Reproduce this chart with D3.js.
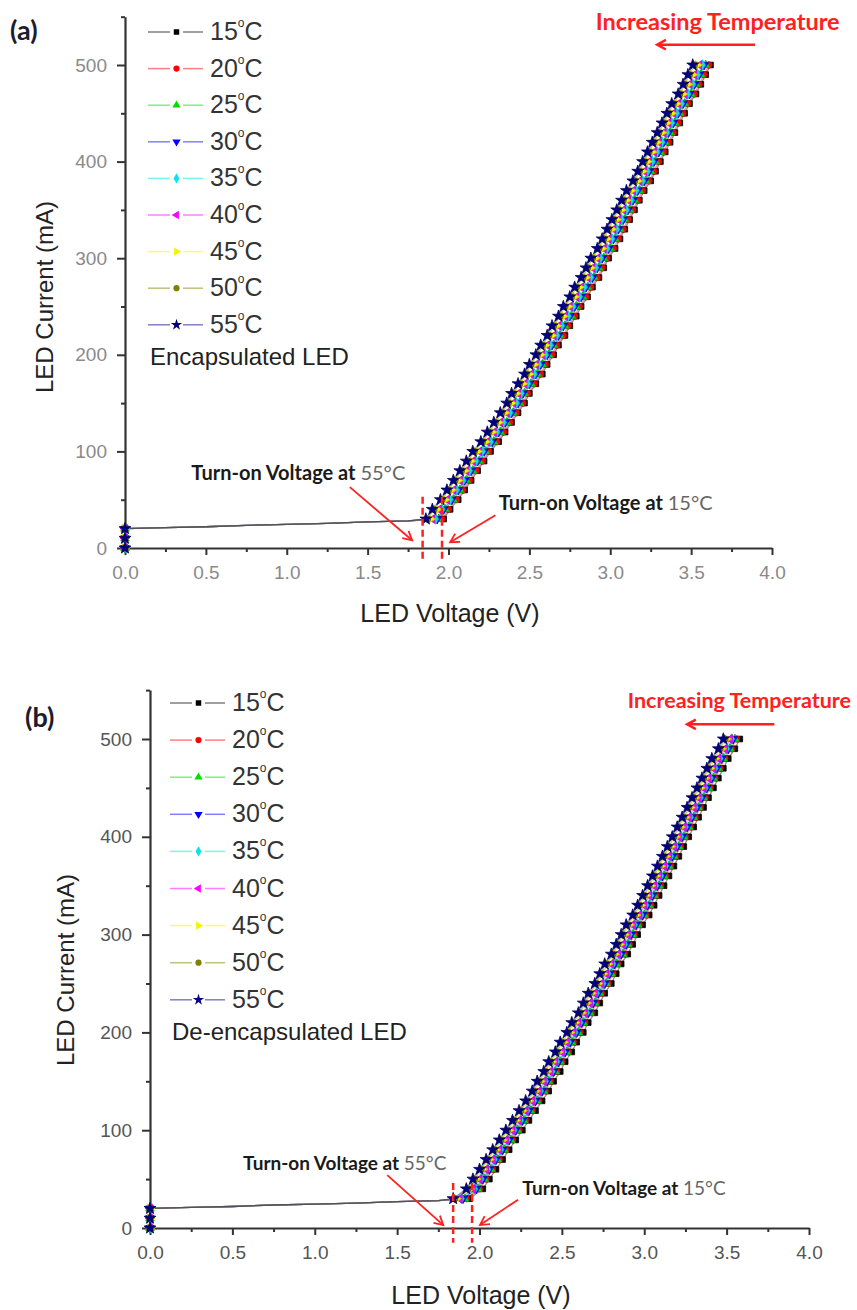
<!DOCTYPE html>
<html>
<head>
<meta charset="utf-8">
<script src="https://cdn.jsdelivr.net/npm/d3@7"></script>
<style>
  body { margin: 0; background: #fff; }
  svg { display: block; }
</style>
</head>
<body>
<script>
// DATA
const temps = ["15", "20", "25", "30", "35", "40", "45", "50", "55"];
const current = [30,40,50,60,70,80,90,100,110,120,130,140,150,160,170,180,190,200,210,220,230,240,250,260,270,280,290,300,310,320,330,340,350,360,370,380,390,400,410,420,430,440,450,460,470,480,490,500];
const zeroI = [0, 10, 20];
const lowV = [0.25, 0.5, 0.75, 1.0, 1.25, 1.5, 1.75];
const lowI = [21, 22, 23.5, 24.5, 25.5, 27, 28];

// (a) encapsulated LED, voltage (V) at each current step
const enc15 = [1.97,2.01,2.06,2.10,2.14,2.18,2.22,2.26,2.31,2.35,2.39,2.43,2.47,2.50,2.54,2.58,2.61,2.65,2.68,2.72,2.75,2.79,2.82,2.86,2.89,2.93,2.96,2.99,3.03,3.06,3.09,3.12,3.15,3.18,3.21,3.25,3.28,3.31,3.34,3.37,3.40,3.43,3.46,3.49,3.53,3.56,3.59,3.62];
const enc20 = [1.96,2.00,2.05,2.09,2.13,2.17,2.21,2.25,2.30,2.34,2.38,2.42,2.46,2.49,2.53,2.57,2.60,2.64,2.67,2.71,2.74,2.78,2.81,2.85,2.88,2.92,2.95,2.98,3.02,3.05,3.08,3.11,3.14,3.17,3.20,3.24,3.27,3.30,3.33,3.36,3.39,3.42,3.45,3.48,3.52,3.55,3.58,3.61];
const enc25 = [1.94,1.98,2.03,2.07,2.11,2.15,2.19,2.23,2.28,2.32,2.36,2.40,2.44,2.47,2.51,2.55,2.58,2.62,2.65,2.69,2.72,2.76,2.79,2.83,2.86,2.90,2.93,2.96,3.00,3.03,3.06,3.09,3.12,3.15,3.18,3.22,3.25,3.28,3.31,3.34,3.37,3.40,3.43,3.46,3.50,3.53,3.56,3.59];
const enc30 = [1.93,1.97,2.02,2.06,2.10,2.14,2.18,2.22,2.27,2.31,2.35,2.39,2.43,2.46,2.50,2.54,2.57,2.61,2.64,2.68,2.71,2.75,2.78,2.82,2.85,2.89,2.92,2.95,2.99,3.02,3.05,3.08,3.11,3.14,3.17,3.21,3.24,3.27,3.30,3.33,3.36,3.39,3.42,3.45,3.49,3.52,3.55,3.58];
const enc35 = [1.92,1.96,2.01,2.05,2.09,2.13,2.17,2.21,2.26,2.30,2.34,2.38,2.42,2.45,2.49,2.53,2.56,2.60,2.63,2.67,2.70,2.74,2.77,2.81,2.84,2.88,2.91,2.94,2.98,3.01,3.04,3.07,3.10,3.13,3.16,3.20,3.23,3.26,3.29,3.32,3.35,3.38,3.41,3.44,3.48,3.51,3.54,3.57];
const enc40 = [1.90,1.94,1.99,2.03,2.07,2.11,2.15,2.19,2.24,2.28,2.32,2.36,2.40,2.43,2.47,2.51,2.54,2.58,2.61,2.65,2.68,2.72,2.75,2.79,2.82,2.86,2.89,2.92,2.96,2.99,3.02,3.05,3.08,3.11,3.14,3.18,3.21,3.24,3.27,3.30,3.33,3.36,3.39,3.42,3.46,3.49,3.52,3.55];
const enc45 = [1.89,1.93,1.98,2.02,2.06,2.10,2.14,2.18,2.23,2.27,2.31,2.35,2.39,2.42,2.46,2.50,2.53,2.57,2.60,2.64,2.67,2.71,2.74,2.78,2.81,2.85,2.88,2.91,2.95,2.98,3.01,3.04,3.07,3.10,3.13,3.17,3.20,3.23,3.26,3.29,3.32,3.35,3.38,3.41,3.45,3.48,3.51,3.54];
const enc50 = [1.87,1.91,1.96,2.00,2.04,2.08,2.12,2.16,2.21,2.25,2.29,2.33,2.37,2.40,2.44,2.48,2.51,2.55,2.58,2.62,2.65,2.69,2.72,2.76,2.79,2.83,2.86,2.89,2.93,2.96,2.99,3.02,3.05,3.08,3.11,3.15,3.18,3.21,3.24,3.27,3.30,3.33,3.36,3.39,3.43,3.46,3.49,3.52];
const enc55 = [1.86,1.90,1.95,1.99,2.03,2.07,2.11,2.15,2.20,2.24,2.28,2.32,2.36,2.39,2.43,2.47,2.50,2.54,2.57,2.61,2.64,2.68,2.71,2.75,2.78,2.82,2.85,2.88,2.92,2.95,2.98,3.01,3.04,3.07,3.10,3.14,3.17,3.20,3.23,3.26,3.29,3.32,3.35,3.38,3.42,3.45,3.48,3.51];

// (b) de-encapsulated LED
const dec15 = [1.94,2.02,2.06,2.10,2.14,2.18,2.22,2.26,2.30,2.34,2.38,2.42,2.45,2.49,2.52,2.56,2.59,2.63,2.66,2.70,2.73,2.76,2.80,2.83,2.86,2.90,2.93,2.96,2.99,3.03,3.06,3.09,3.12,3.15,3.18,3.21,3.24,3.27,3.30,3.33,3.36,3.39,3.42,3.45,3.48,3.51,3.55,3.58];
const dec20 = [1.92,2.00,2.04,2.08,2.12,2.16,2.20,2.24,2.28,2.32,2.36,2.40,2.43,2.47,2.50,2.54,2.57,2.61,2.64,2.68,2.71,2.74,2.78,2.81,2.84,2.88,2.91,2.94,2.97,3.01,3.04,3.07,3.10,3.13,3.16,3.19,3.22,3.25,3.28,3.31,3.34,3.37,3.40,3.43,3.46,3.49,3.53,3.56];
const dec25 = [1.91,1.99,2.03,2.07,2.11,2.15,2.19,2.23,2.27,2.31,2.35,2.39,2.42,2.46,2.49,2.53,2.56,2.60,2.63,2.67,2.70,2.73,2.77,2.80,2.83,2.87,2.90,2.93,2.96,3.00,3.03,3.06,3.09,3.12,3.15,3.18,3.21,3.24,3.27,3.30,3.33,3.36,3.39,3.42,3.45,3.48,3.52,3.55];
const dec30 = [1.90,1.98,2.02,2.06,2.10,2.14,2.18,2.22,2.26,2.30,2.34,2.38,2.41,2.45,2.48,2.52,2.55,2.59,2.62,2.66,2.69,2.72,2.76,2.79,2.82,2.86,2.89,2.92,2.95,2.99,3.02,3.05,3.08,3.11,3.14,3.17,3.20,3.23,3.26,3.29,3.32,3.35,3.38,3.41,3.44,3.47,3.51,3.54];
const dec35 = [1.89,1.97,2.01,2.05,2.09,2.13,2.17,2.21,2.25,2.29,2.33,2.37,2.40,2.44,2.47,2.51,2.54,2.58,2.61,2.65,2.68,2.71,2.75,2.78,2.81,2.85,2.88,2.91,2.94,2.98,3.01,3.04,3.07,3.10,3.13,3.16,3.19,3.22,3.25,3.28,3.31,3.34,3.37,3.40,3.43,3.46,3.50,3.53];
const dec40 = [1.88,1.96,2.00,2.04,2.08,2.12,2.16,2.20,2.24,2.28,2.32,2.36,2.39,2.43,2.46,2.50,2.53,2.57,2.60,2.64,2.67,2.70,2.74,2.77,2.80,2.84,2.87,2.90,2.93,2.97,3.00,3.03,3.06,3.09,3.12,3.15,3.18,3.21,3.24,3.27,3.30,3.33,3.36,3.39,3.42,3.45,3.49,3.52];
const dec45 = [1.86,1.94,1.98,2.02,2.06,2.10,2.14,2.18,2.22,2.26,2.30,2.34,2.37,2.41,2.44,2.48,2.51,2.55,2.58,2.62,2.65,2.68,2.72,2.75,2.78,2.82,2.85,2.88,2.91,2.95,2.98,3.01,3.04,3.07,3.10,3.13,3.16,3.19,3.22,3.25,3.28,3.31,3.34,3.37,3.40,3.43,3.47,3.50];
const dec50 = [1.85,1.93,1.97,2.01,2.05,2.09,2.13,2.17,2.21,2.25,2.29,2.33,2.36,2.40,2.43,2.47,2.50,2.54,2.57,2.61,2.64,2.67,2.71,2.74,2.77,2.81,2.84,2.87,2.90,2.94,2.97,3.00,3.03,3.06,3.09,3.12,3.15,3.18,3.21,3.24,3.27,3.30,3.33,3.36,3.39,3.42,3.46,3.49];
const dec55 = [1.84,1.92,1.96,2.00,2.04,2.08,2.12,2.16,2.20,2.24,2.28,2.32,2.35,2.39,2.42,2.46,2.49,2.53,2.56,2.60,2.63,2.66,2.70,2.73,2.76,2.80,2.83,2.86,2.89,2.93,2.96,2.99,3.02,3.05,3.08,3.11,3.14,3.17,3.20,3.23,3.26,3.29,3.32,3.35,3.38,3.41,3.45,3.48];

const xTicks = [0, 0.5, 1.0, 1.5, 2.0, 2.5, 3.0, 3.5, 4.0];
const xMinor = [0.25, 0.75, 1.25, 1.75, 2.25, 2.75, 3.25, 3.75];
const yTicks = [0, 100, 200, 300, 400, 500];
const yMinor = [50, 150, 250, 350, 450, 550];
const turnOnA = [1.84, 1.96];
const turnOnB = [1.84, 1.955];

const colors = ["#000000", "#ff0000", "#00e000", "#0000ff", "#00e5ee", "#ff00ff", "#f5f500", "#808000", "#000080"];
const shapes = [
  { type: d3.symbolSquare, angle: 0 },
  { type: d3.symbolCircle, angle: 0 },
  { type: d3.symbolTriangle, angle: 0 },
  { type: d3.symbolTriangle, angle: 180 },
  { type: d3.symbolDiamond, angle: 0 },
  { type: d3.symbolTriangle, angle: -90 },
  { type: d3.symbolTriangle, angle: 90 },
  { type: d3.symbolCircle, angle: 0 },
  { type: d3.symbolStar, angle: 0 }
];

const SANS = "'Liberation Sans', Arial, sans-serif";
const CAL = "Lato, 'Open Sans', sans-serif";

const svg = d3.select("body").append("svg")
  .attr("width", 857)
  .attr("height", 1310)
  .style("font-family", SANS);

function arrow(g, x1, y1, x2, y2, w) {
  const a = Math.atan2(y2 - y1, x2 - x1);
  const h = 10;
  g.append("line").attr("x1", x1).attr("y1", y1).attr("x2", x2).attr("y2", y2)
    .attr("stroke", "#ff2020").attr("stroke-width", w);
  g.append("path")
    .attr("d", `M${x2 - h * Math.cos(a - 0.5)},${y2 - h * Math.sin(a - 0.5)} L${x2},${y2} L${x2 - h * Math.cos(a + 0.5)},${y2 - h * Math.sin(a + 0.5)}`)
    .attr("fill", "none").attr("stroke", "#ff2020").attr("stroke-width", w);
}

function drawPanel(p) {
  const x = d3.scaleLinear().domain([0, 4]).range([p.left, p.right]);
  const y = d3.scaleLinear().domain([0, 550]).range([p.bottom, p.top]);
  const g = svg.append("g");

  // minor ticks
  g.append("g").attr("transform", `translate(0,${p.bottom})`)
    .call(d3.axisBottom(x).tickValues(xMinor).tickSize(4).tickFormat(""))
    .call(s => s.select(".domain").remove());
  g.append("g").attr("transform", `translate(${p.left},0)`)
    .call(d3.axisLeft(y).tickValues(yMinor).tickSize(4).tickFormat(""))
    .call(s => s.select(".domain").remove());

  // major axes
  const xa = g.append("g").attr("transform", `translate(0,${p.bottom})`)
    .call(d3.axisBottom(x).tickValues(xTicks).tickSize(7).tickSizeOuter(0).tickPadding(11).tickFormat(d3.format(".1f")));
  const ya = g.append("g").attr("transform", `translate(${p.left},0)`)
    .call(d3.axisLeft(y).tickValues(yTicks).tickSize(8).tickSizeOuter(0).tickPadding(10));
  g.selectAll(".tick line").attr("stroke", "#333").attr("stroke-width", 2);
  g.selectAll(".domain").attr("stroke", "#333").attr("stroke-width", 2.2);
  [xa, ya].forEach(a => a.selectAll("text")
    .attr("fill", p.tickColor).style("font-size", "19px")
    .style("font-family", SANS));

  // series
  const plot = g.append("g");
  const line = d3.line().x(d => x(d[0])).y(d => y(d[1]));
  p.series.forEach((v, i) => {
    const pts = zeroI.map(c => [0, c])
      .concat(lowV.map((lv, k) => [lv, lowI[k]]))
      .concat(current.map((c, k) => [v[k], c]));
    plot.append("path").attr("d", line(pts))
      .attr("fill", "none").attr("stroke", colors[i])
      .attr("stroke-opacity", 0.45).attr("stroke-width", 1.3);
  });
  p.series.forEach((v, i) => {
    const pts = zeroI.map(c => [0, c]).concat(current.map((c, k) => [v[k], c]));
    const sym = d3.symbol().type(shapes[i].type).size(i === 8 ? 44 : 32);
    plot.selectAll(null).data(pts).join("path")
      .attr("d", sym)
      .attr("transform", d => `translate(${x(d[0])},${y(d[1])}) rotate(${shapes[i].angle})`)
      .attr("fill", colors[i])
      .attr("stroke", d3.color(colors[i]).darker(0.6))
      .attr("stroke-width", 0.8);
  });

  // turn-on dashed lines
  p.turnOn.forEach(t => {
    g.append("line")
      .attr("x1", x(t)).attr("x2", x(t))
      .attr("y1", y(p.dashTop)).attr("y2", y(p.dashBottom))
      .attr("stroke", "#ff2020").attr("stroke-width", 2.5)
      .attr("stroke-dasharray", "7,4");
  });

  // annotations
  const ann = g.append("g").style("font-family", CAL);
  p.notes.forEach(n => {
    const t = ann.append("text")
      .attr("x", x(n.v)).attr("y", y(n.i))
      .attr("dominant-baseline", "middle")
      .style("font-size", p.noteSize + "px");
    t.append("tspan").attr("font-weight", 700).attr("fill", "#1a1a1a").text("Turn-on Voltage at ");
    t.append("tspan").attr("fill", "#666").text(n.temp + "°C");
    arrow(ann, x(n.a[0]), y(n.a[1]), x(n.a[2]), y(n.a[3]), 1.8);
  });
  ann.append("text")
    .attr("x", x(p.incr.v)).attr("y", y(p.incr.i))
    .attr("dominant-baseline", "middle")
    .attr("fill", "#ff2020").attr("font-weight", 700)
    .style("font-size", p.incr.size + "px")
    .text("Increasing Temperature");
  arrow(ann, x(p.incr.a[0]), y(p.incr.a[1]), x(p.incr.a[2]), y(p.incr.a[1]), 2.5);

  // axis titles
  g.append("text")
    .attr("transform", `translate(${p.yTitle[0]},${p.yTitle[1]}) rotate(-90)`)
    .attr("text-anchor", "middle").attr("dominant-baseline", "middle")
    .attr("fill", "#222").style("font-size", "24px")
    .text("LED Current (mA)");
  g.append("text")
    .attr("x", p.xTitle[0]).attr("y", p.xTitle[1])
    .attr("text-anchor", "middle").attr("dominant-baseline", "middle")
    .attr("fill", "#222").style("font-size", "25px")
    .text("LED Voltage (V)");

  // panel letter
  g.append("text")
    .attr("x", p.letter[0]).attr("y", p.letter[1])
    .attr("dominant-baseline", "middle")
    .attr("fill", "#1c1c2a").attr("font-weight", 700)
    .style("font-family", CAL)
    .style("font-size", "27px")
    .text(p.letter[2]);

  // legend
  const lg = g.append("g");
  temps.forEach((t, i) => {
    const ry = p.leg.y + i * p.leg.dy;
    lg.append("line").attr("x1", p.leg.x).attr("x2", p.leg.x + 22).attr("y1", ry).attr("y2", ry)
      .attr("stroke", colors[i]).attr("stroke-opacity", 0.5).attr("stroke-width", 1.5);
    lg.append("line").attr("x1", p.leg.x + 35).attr("x2", p.leg.x + 55).attr("y1", ry).attr("y2", ry)
      .attr("stroke", colors[i]).attr("stroke-opacity", 0.5).attr("stroke-width", 1.5);
    lg.append("path")
      .attr("d", d3.symbol().type(shapes[i].type).size(i === 8 ? 40 : 30))
      .attr("transform", `translate(${p.leg.x + 28.5},${ry}) rotate(${shapes[i].angle})`)
      .attr("fill", colors[i]);
    const tx = lg.append("text")
      .attr("x", p.leg.x + 62).attr("y", ry + 1)
      .attr("dominant-baseline", "middle")
      .attr("fill", "#333").style("font-size", "25px");
    tx.append("tspan").text(t);
    tx.append("tspan").attr("dy", -9).style("font-size", "12px").text("o");
    tx.append("tspan").attr("dy", 9).text("C");
  });
  lg.append("text")
    .attr("x", p.leg.x + 2).attr("y", p.leg.y + 9 * p.leg.dy - 3)
    .attr("dominant-baseline", "middle")
    .attr("fill", "#222").style("font-size", "24px")
    .text(p.caption);
}

drawPanel({
  left: 125, right: 772, bottom: 548, top: 16.7,
  series: [enc15, enc20, enc25, enc30, enc35, enc40, enc45, enc50, enc55],
  tickColor: "#8a8a8a",
  turnOn: turnOnA, dashTop: 53, dashBottom: -12,
  noteSize: 20,
  notes: [
    { v: 0.41, i: 76, temp: "55", a: [1.39, 63, 1.775, 8] },
    { v: 2.31, i: 45, temp: "15", a: [2.29, 34, 2.01, 6] }
  ],
  incr: { v: 2.91, i: 542, size: 23.5, a: [3.895, 521, 3.29] },
  yTitle: [47, 297], xTitle: [450, 615],
  letter: [10, 33, "(a)"],
  leg: { x: 148, y: 32, dy: 36.6 },
  caption: "Encapsulated LED"
});

drawPanel({
  left: 150, right: 809, bottom: 1228, top: 690.1,
  series: [dec15, dec20, dec25, dec30, dec35, dec40, dec45, dec50, dec55],
  tickColor: "#555",
  turnOn: turnOnB, dashTop: 46, dashBottom: -15,
  noteSize: 19,
  notes: [
    { v: 0.565, i: 64, temp: "55", a: [1.44, 54, 1.78, 3] },
    { v: 2.26, i: 39, temp: "15", a: [2.234, 29, 2.003, 3] }
  ],
  incr: { v: 2.90, i: 537, size: 21.5, a: [3.79, 515, 3.26] },
  yTitle: [68, 970], xTitle: [481, 1297],
  letter: [25, 720, "(b)"],
  leg: { x: 170, y: 703, dy: 37.1 },
  caption: "De-encapsulated LED"
});
</script>
</body>
</html>
